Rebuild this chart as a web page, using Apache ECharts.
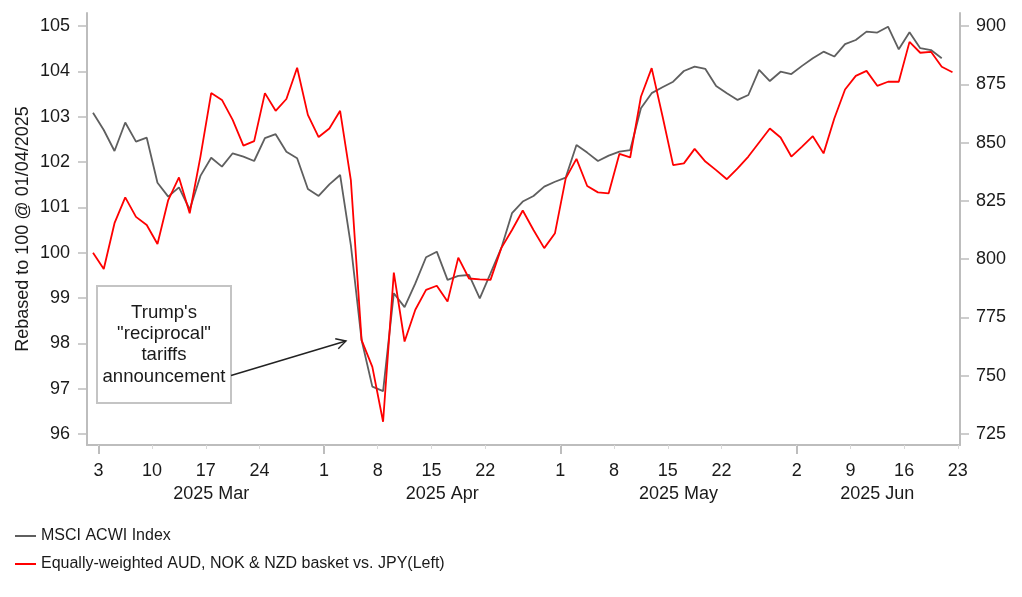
<!DOCTYPE html>
<html>
<head>
<meta charset="utf-8">
<script src="https://cdn.jsdelivr.net/npm/echarts@6/dist/echarts.min.js"></script>
<style>
html,body{margin:0;padding:0;background:#fff;}
#chart{width:1022px;height:597px;}
</style>
</head>
<body>
<div id="chart"></div>
<script>
// ---- data ----
const dates = [
'2025-03-03','2025-03-04','2025-03-05','2025-03-06','2025-03-07','2025-03-10','2025-03-11','2025-03-12','2025-03-13','2025-03-14',
'2025-03-17','2025-03-18','2025-03-19','2025-03-20','2025-03-21','2025-03-24','2025-03-25','2025-03-26','2025-03-27','2025-03-28',
'2025-03-31','2025-04-01','2025-04-02','2025-04-03','2025-04-04','2025-04-07','2025-04-08','2025-04-09','2025-04-10','2025-04-11',
'2025-04-14','2025-04-15','2025-04-16','2025-04-17','2025-04-18','2025-04-21','2025-04-22','2025-04-23','2025-04-24','2025-04-25',
'2025-04-28','2025-04-29','2025-04-30','2025-05-01','2025-05-02','2025-05-05','2025-05-06','2025-05-07','2025-05-08','2025-05-09',
'2025-05-12','2025-05-13','2025-05-14','2025-05-15','2025-05-16','2025-05-19','2025-05-20','2025-05-21','2025-05-22','2025-05-23',
'2025-05-26','2025-05-27','2025-05-28','2025-05-29','2025-05-30','2025-06-02','2025-06-03','2025-06-04','2025-06-05','2025-06-06',
'2025-06-09','2025-06-10','2025-06-11','2025-06-12','2025-06-13','2025-06-16','2025-06-17','2025-06-18','2025-06-19','2025-06-20',
'2025-06-23'
];
// Equally-weighted AUD, NOK & NZD basket vs. JPY (left axis)
const basket = [
100.0, 99.64, 100.65, 101.22, 100.79, 100.61, 100.19, 101.16, 101.66, 100.87,
102.12, 103.52, 103.37, 102.93, 102.36, 102.46, 103.52, 103.13, 103.39, 104.08,
103.04, 102.55, 102.74, 103.13, 101.6, 98.07, 97.48, 96.27, 99.56, 98.04,
98.74, 99.18, 99.27, 98.92, 99.89, 99.43, 99.41, 99.40, 100.1, 100.5,
100.93, 100.5, 100.1, 100.43, 101.64, 102.07, 101.47, 101.33, 101.31, 102.18,
102.1, 103.44, 104.07, 103.02, 101.93, 101.97, 102.29, 102.01, 101.82, 101.62,
101.86, 102.12, 102.43, 102.74, 102.54, 102.12, 102.34, 102.57, 102.19, 102.96,
103.6, 103.9, 104.01, 103.68, 103.77, 103.77, 104.65, 104.41, 104.43, 104.1,
103.98
];
// MSCI ACWI Index (right axis)
const acwi = [
862.8, 855.4, 846.4, 858.6, 850.4, 852.1, 832.8, 826.8, 830.8, 821.3,
835.7, 843.5, 839.7, 845.4, 844.0, 842.1, 851.9, 853.6, 846.1, 843.3,
830.1, 827.1, 832.1, 836.1, 806.0, 765.3, 745.3, 743.4, 785.4, 779.4,
789.6, 800.8, 803.2, 791.1, 792.8, 793.2, 783.2, 793.9, 804.7, 819.7,
824.7, 827.1, 831.1, 833.2, 835.0, 849.0, 845.7, 842.1, 844.4, 846.1,
846.8, 864.7, 871.2, 873.7, 876.1, 880.7, 882.6, 881.6, 874.3, 871.2,
868.3, 870.4, 881.2, 876.4, 880.4, 879.4, 882.9, 886.2, 889.0, 886.9,
892.2, 894.0, 897.6, 897.2, 899.7, 890.0, 897.3, 890.5, 889.7, 886.2,
null
];
const tickDates = ['2025-03-03','2025-03-10','2025-03-17','2025-03-24','2025-04-01','2025-04-08','2025-04-15','2025-04-22',
  '2025-05-01','2025-05-08','2025-05-15','2025-05-22','2025-06-02','2025-06-09','2025-06-16','2025-06-23'];
const monthStartDates = ['2025-03-03','2025-04-01','2025-05-01','2025-06-02'];
const monthLabels = ['2025 Mar','2025 Apr','2025 May','2025 Jun'];
const leftTicks = [96, 97, 98, 99, 100, 101, 102, 103, 104, 105];
const rightTicks = [725, 750, 775, 800, 825, 850, 875, 900];
const seriesNames = ['MSCI ACWI Index', 'Equally-weighted AUD, NOK & NZD basket vs. JPY(Left)'];
const noteLines = ["Trump's", '"reciprocal"', 'tariffs', 'announcement'];

// ---- derived ----
const idx = d => dates.indexOf(d);
const tickPos = tickDates.map(d => idx(d) + 0.5);
const tickText = {};
tickDates.forEach((d, i) => { tickText[tickPos[i].toFixed(2)] = String(parseInt(d.slice(8), 10)); });
const monthPos = monthStartDates.map(d => idx(d) + 0.5);
const monthEdges = monthPos.concat([tickPos[tickPos.length - 1]]);
const monthCenters = monthLabels.map((m, i) => (monthEdges[i] + monthEdges[i + 1]) / 2);
const monthText = {};
monthCenters.forEach((c, i) => { monthText[c.toFixed(2)] = monthLabels[i]; });

const XMIN = -0.56, XMAX = 80.7;
const LMIN = 95.757, LMAX = 105.287;
const RMIN = 720.28, RMAX = 905.58;
const FONT = 'Liberation Sans, Arial, sans-serif';
const AXIS_GRAY = '#bdbdbd';
const TXT = '#1a1a1a';
const GRID = { left: 87, right: 62, top: 13, bottom: 152 };
const gridH = 597 - GRID.top - GRID.bottom;

const chart = echarts.init(document.getElementById('chart'), null, { renderer: 'canvas' });
chart.setOption({
  animation: false,
  backgroundColor: '#ffffff',
  textStyle: { fontFamily: FONT },
  grid: Object.assign({ containLabel: false }, GRID),
  xAxis: [
    { type: 'value', min: XMIN, max: XMAX, position: 'bottom', splitLine: { show: false },
      axisLine: { show: true, onZero: false, lineStyle: { color: AXIS_GRAY, width: 2 } },
      axisTick: { show: true, customValues: tickPos, length: 4, lineStyle: { color: '#d9d9d9', width: 1 } },
      axisLabel: { show: true, customValues: tickPos, margin: 17, color: TXT, fontSize: 18, fontFamily: FONT,
        formatter: v => tickText[Number(v).toFixed(2)] || '' } },
    // month axis: a top axis pushed down onto the bottom edge, ticks/labels pointing down
    { type: 'value', min: XMIN, max: XMAX, position: 'top', offset: -(gridH + 1), splitLine: { show: false },
      axisLine: { show: false, onZero: false },
      axisTick: { show: true, inside: true, customValues: monthPos, length: 8, lineStyle: { color: AXIS_GRAY, width: 2 } },
      axisLabel: { show: true, inside: true, customValues: monthCenters, margin: 39, color: TXT, fontSize: 18, fontFamily: FONT,
        formatter: v => monthText[Number(v).toFixed(2)] || '' } }
  ],
  yAxis: [
    { type: 'value', position: 'left', min: LMIN, max: LMAX, splitLine: { show: false },
      axisLine: { show: true, onZero: false, lineStyle: { color: AXIS_GRAY, width: 2 } },
      axisTick: { show: true, customValues: leftTicks, length: 9, lineStyle: { color: AXIS_GRAY, width: 1.5 } },
      axisLabel: { show: true, customValues: leftTicks, margin: 17, color: TXT, fontSize: 18, fontFamily: FONT },
      name: 'Rebased to 100 @ 01/04/2025', nameLocation: 'middle', nameGap: 55, nameRotate: 90, nameMoveOverlap: false,
      nameTextStyle: { color: TXT, fontSize: 18, fontFamily: FONT } },
    { type: 'value', position: 'right', min: RMIN, max: RMAX, splitLine: { show: false },
      axisLine: { show: true, onZero: false, lineStyle: { color: AXIS_GRAY, width: 2 } },
      axisTick: { show: true, customValues: rightTicks, length: 9, lineStyle: { color: AXIS_GRAY, width: 1.5 } },
      axisLabel: { show: true, customValues: rightTicks, margin: 16, color: TXT, fontSize: 18, fontFamily: FONT } }
  ],
  legend: {
    orient: 'vertical', left: 15, top: 528, padding: 0, itemWidth: 21, itemHeight: 2, itemGap: 12, icon: 'rect',
    textStyle: { color: TXT, fontSize: 16, fontFamily: FONT },
    data: seriesNames
  },
  series: [
    { name: seriesNames[0], type: 'line', xAxisIndex: 0, yAxisIndex: 1, symbol: 'none',
      lineStyle: { color: '#5f5f5f', width: 1.8 }, itemStyle: { color: '#5f5f5f' },
      data: acwi.map((v, i) => [i, v]), z: 3 },
    { name: seriesNames[1], type: 'line', xAxisIndex: 0, yAxisIndex: 0, symbol: 'none',
      lineStyle: { color: '#ff0000', width: 1.8 }, itemStyle: { color: '#ff0000' },
      data: basket.map((v, i) => [i, v]), z: 4 }
  ]
});

// ---- annotation (box + arrow) ----
const box = { x: 97, y: 286, w: 134, h: 117 };
const a0 = [231, 375.5], a1 = [346, 341];
const ang = Math.atan2(a1[1] - a0[1], a1[0] - a0[0]);
const hl = 11, ha = 0.5;
const h1 = [a1[0] - hl * Math.cos(ang - ha), a1[1] - hl * Math.sin(ang - ha)];
const h2 = [a1[0] - hl * Math.cos(ang + ha), a1[1] - hl * Math.sin(ang + ha)];
chart.setOption({
  graphic: [
    { type: 'rect', shape: { x: box.x, y: box.y, width: box.w, height: box.h },
      style: { fill: '#ffffff', stroke: '#c4c4c4', lineWidth: 2 }, z: 10 },
    { type: 'text', x: box.x + box.w / 2, y: box.y + 16, z: 11,
      style: { text: noteLines.join('\n'), fill: TXT, font: '18.6px ' + FONT, align: 'center', verticalAlign: 'top', lineHeight: 21.3 } },
    { type: 'line', shape: { x1: a0[0], y1: a0[1], x2: a1[0], y2: a1[1] }, style: { stroke: '#222', lineWidth: 1.4 }, z: 11 },
    { type: 'polyline', shape: { points: [h1, a1, h2] }, style: { stroke: '#222', lineWidth: 1.4, fill: null }, z: 11 }
  ]
});
</script>
</body>
</html>
